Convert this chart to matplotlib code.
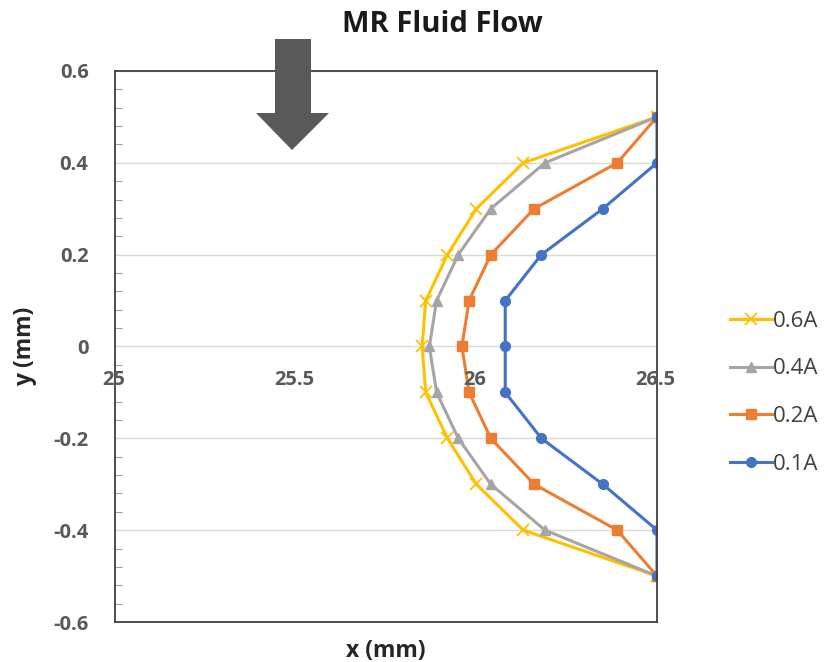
import matplotlib.pyplot as plt
from matplotlib.patches import Polygon
from matplotlib.ticker import MultipleLocator

plt.rcParams['font.family'] = ['Open Sans', 'DejaVu Sans']

y_pos = [0.5, 0.4, 0.3, 0.2, 0.1, 0.0, -0.1, -0.2, -0.3, -0.4, -0.5]
x_06A = [26.5, 26.13, 26.0, 25.92, 25.86, 25.85, 25.86, 25.92, 26.0, 26.13, 26.5]
x_04A = [26.5, 26.19, 26.04, 25.95, 25.89, 25.87, 25.89, 25.95, 26.04, 26.19, 26.5]
x_02A = [26.5, 26.39, 26.16, 26.04, 25.98, 25.96, 25.98, 26.04, 26.16, 26.39, 26.5]
x_01A = [26.5, 26.5, 26.35, 26.18, 26.08, 26.08, 26.08, 26.18, 26.35, 26.5, 26.5]

x_ticks = [25, 25.5, 26, 26.5]
x_tick_labels = ['25', '25.5', '26', '26.5']

W, H = 824, 662
fig = plt.figure(figsize=(W / 100, H / 100), dpi=100)
ax = fig.add_axes([115 / W, 1 - 622 / H, (657 - 115) / W, (622 - 71) / H])

label_gray = '#595959'

ax.plot(x_06A, y_pos, color='#FFC000', marker='x', markersize=8, mew=1.3, lw=2.2, label='0.6A')
ax.plot(x_04A, y_pos, color='#A5A5A5', marker='^', markersize=7, lw=2.2, label='0.4A')
ax.plot(x_02A, y_pos, color='#ED7D31', marker='s', markersize=7, lw=2.2, label='0.2A')
ax.plot(x_01A, y_pos, color='#4472C4', marker='o', markersize=7, lw=2.2, label='0.1A')

ax.set_xlim(25, 26.5)
ax.set_ylim(-0.6, 0.6)

ax.yaxis.set_major_locator(MultipleLocator(0.2))
ax.yaxis.set_minor_locator(MultipleLocator(0.04))
ax.yaxis.set_major_formatter(plt.FuncFormatter(lambda v, p: '0' if abs(v) < 1e-9 else f'{v:.1f}'))
ax.tick_params(axis='y', which='major', length=0, pad=19, labelsize=14.5, labelcolor=label_gray)
ax.tick_params(axis='y', which='minor', direction='in', length=5, width=0.8, color='#A0A0A0')
for lbl in ax.get_yticklabels():
    lbl.set_fontweight('bold')

ax.set_xticks([])
ax.grid(axis='y', which='major', color='#D9D9D9', lw=1)
ax.set_axisbelow(True)
for sp in ax.spines.values():
    sp.set_color('#404040')
    sp.set_linewidth(1.3)

# x labels sit under the y = 0 line
for xv, txt in zip(x_ticks, x_tick_labels):
    ax.annotate(txt, (xv, 0), xytext=(-1, -17), textcoords='offset points',
                ha='center', va='top', fontsize=14.5, fontweight='bold', color=label_gray)

ax.set_xlabel('x (mm)', fontsize=16.5, fontweight='bold', color='#262626', labelpad=12)
ax.set_ylabel('y (mm)', fontsize=16.5, fontweight='bold', color='#262626', labelpad=12)

fig.text(442 / W, 1 - 24 / H, 'MR Fluid Flow', ha='center', va='center',
         fontsize=21, fontweight='bold', color='#1a1a1a')

leg = ax.legend(loc='center left', bbox_to_anchor=(1.097, 0.416), frameon=False,
                fontsize=16, handlelength=1.9, labelspacing=1.2, handletextpad=0.05)
for t in leg.get_texts():
    t.set_color('#404040')

# block arrow showing the flow direction
pts = [(275, 39), (311, 39), (311, 113), (329, 113), (292, 150), (256, 113), (275, 113)]
arrow = Polygon([(px / W, 1 - py / H) for px, py in pts], closed=True,
                transform=fig.transFigure, facecolor='#595959', edgecolor='none', zorder=10)
fig.patches.append(arrow)

fig.savefig('out.png', dpi=100)
